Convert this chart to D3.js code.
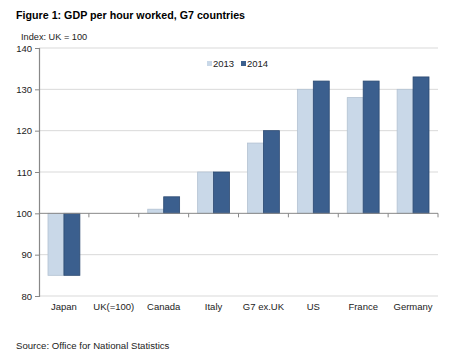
<!DOCTYPE html>
<html>
<head>
<meta charset="utf-8">
<script src="https://cdn.jsdelivr.net/npm/d3@7"></script>
<style>
  body { margin: 0; background: #fff; }
  svg { font-family: "Liberation Sans", Arial, sans-serif; }
</style>
</head>
<body>
<div id="chart"></div>
<script>
const categories = ['Japan', 'UK(=100)', 'Canada', 'Italy', 'G7 ex.UK', 'US', 'France', 'Germany'];
const years = ['2013', '2014'];
const values2013 = [85, 100, 101, 110, 117, 130, 128, 130];
const values2014 = [85, 100, 104, 110, 120, 132, 132, 133];
const yTicks = [80, 90, 100, 110, 120, 130, 140];

const width = 460;
const height = 359;
const plotLeft = 39;
const plotRight = 438;
const plotTop = 48;
const plotBottom = 296;

const colors = { '2013': '#c9d8e8', '2014': '#3b5f8e' };
const strokes = { '2013': '#b3c2d2', '2014': '#2c4a72' };

const x = d3.scaleBand()
  .domain(categories)
  .range([plotLeft, plotRight]);

const xInner = d3.scaleBand()
  .domain(years)
  .range([9, x.bandwidth() - 9]);

const y = d3.scaleLinear()
  .domain([80, 140])
  .range([plotBottom, plotTop]);

const svg = d3.select('#chart')
  .append('svg')
  .attr('width', width)
  .attr('height', height);

// title
svg.append('text')
  .attr('x', 16)
  .attr('y', 19)
  .attr('font-size', 10.7)
  .attr('font-weight', 'bold')
  .attr('fill', '#000')
  .text('Figure 1: GDP per hour worked, G7 countries');

svg.append('text')
  .attr('x', 21)
  .attr('y', 40)
  .attr('font-size', 9.2)
  .attr('fill', '#222')
  .text('Index: UK = 100');

// gridlines
svg.append('g')
  .selectAll('line')
  .data(yTicks.filter(d => d !== 100))
  .enter()
  .append('line')
  .attr('x1', plotLeft)
  .attr('x2', plotRight)
  .attr('y1', d => y(d))
  .attr('y2', d => y(d))
  .attr('stroke', '#d9d9d9')
  .attr('stroke-width', 1);

// bars
const data = categories.map((c, i) => ({ cat: c, vals: [
  { year: '2013', v: values2013[i] },
  { year: '2014', v: values2014[i] }
]}));

const groups = svg.append('g')
  .selectAll('g')
  .data(data)
  .enter()
  .append('g')
  .attr('transform', d => 'translate(' + x(d.cat) + ',0)');

groups.selectAll('rect')
  .data(d => d.vals.filter(e => e.v !== 100))
  .enter()
  .append('rect')
  .attr('x', d => xInner(d.year))
  .attr('width', xInner.bandwidth())
  .attr('y', d => y(Math.max(d.v, 100)))
  .attr('height', d => Math.abs(y(d.v) - y(100)))
  .attr('fill', d => colors[d.year])
  .attr('stroke', d => strokes[d.year])
  .attr('stroke-width', 0.8);

// category axis at 100, ticks between categories
const xg = svg.append('g')
  .attr('transform', 'translate(0,' + y(100) + ')');
xg.append('line')
  .attr('x1', plotLeft)
  .attr('x2', plotRight)
  .attr('stroke', '#888');
xg.selectAll('line.bound')
  .data(categories.slice(1).map(c => x(c)).concat([plotRight]))
  .enter()
  .append('line')
  .attr('class', 'bound')
  .attr('x1', d => d)
  .attr('x2', d => d)
  .attr('y1', 0)
  .attr('y2', 4)
  .attr('stroke', '#888');

// category labels at bottom
svg.append('g')
  .selectAll('text')
  .data(categories)
  .enter()
  .append('text')
  .attr('x', d => x(d) + x.bandwidth() / 2)
  .attr('y', plotBottom + 14)
  .attr('text-anchor', 'middle')
  .attr('font-size', 9.5)
  .attr('fill', '#222')
  .text(d => d);

// y axis
const yAxis = d3.axisLeft(y).tickValues(yTicks).tickSize(4).tickPadding(3);
const yg = svg.append('g')
  .attr('transform', 'translate(' + plotLeft + ',0)')
  .call(yAxis);
yg.select('.domain').attr('stroke', '#888').attr('stroke-width', 1.2);
yg.selectAll('.tick line').attr('stroke', '#888');
yg.selectAll('.tick text')
  .attr('font-size', 9.5)
  .attr('fill', '#222')
  .attr('font-family', '"Liberation Sans", Arial, sans-serif');

// legend
const legend = svg.append('g');
const legendX = [207, 241];
years.forEach((yr, i) => {
  legend.append('rect')
    .attr('x', legendX[i])
    .attr('y', 61)
    .attr('width', 5)
    .attr('height', 5)
    .attr('fill', colors[yr]);
  legend.append('text')
    .attr('x', legendX[i] + 6)
    .attr('y', 67)
    .attr('font-size', 9.5)
    .attr('fill', '#222')
    .text(yr);
});

// source
svg.append('text')
  .attr('x', 16)
  .attr('y', 349)
  .attr('font-size', 9.6)
  .attr('fill', '#222')
  .text('Source: Office for National Statistics');
</script>
</body>
</html>
